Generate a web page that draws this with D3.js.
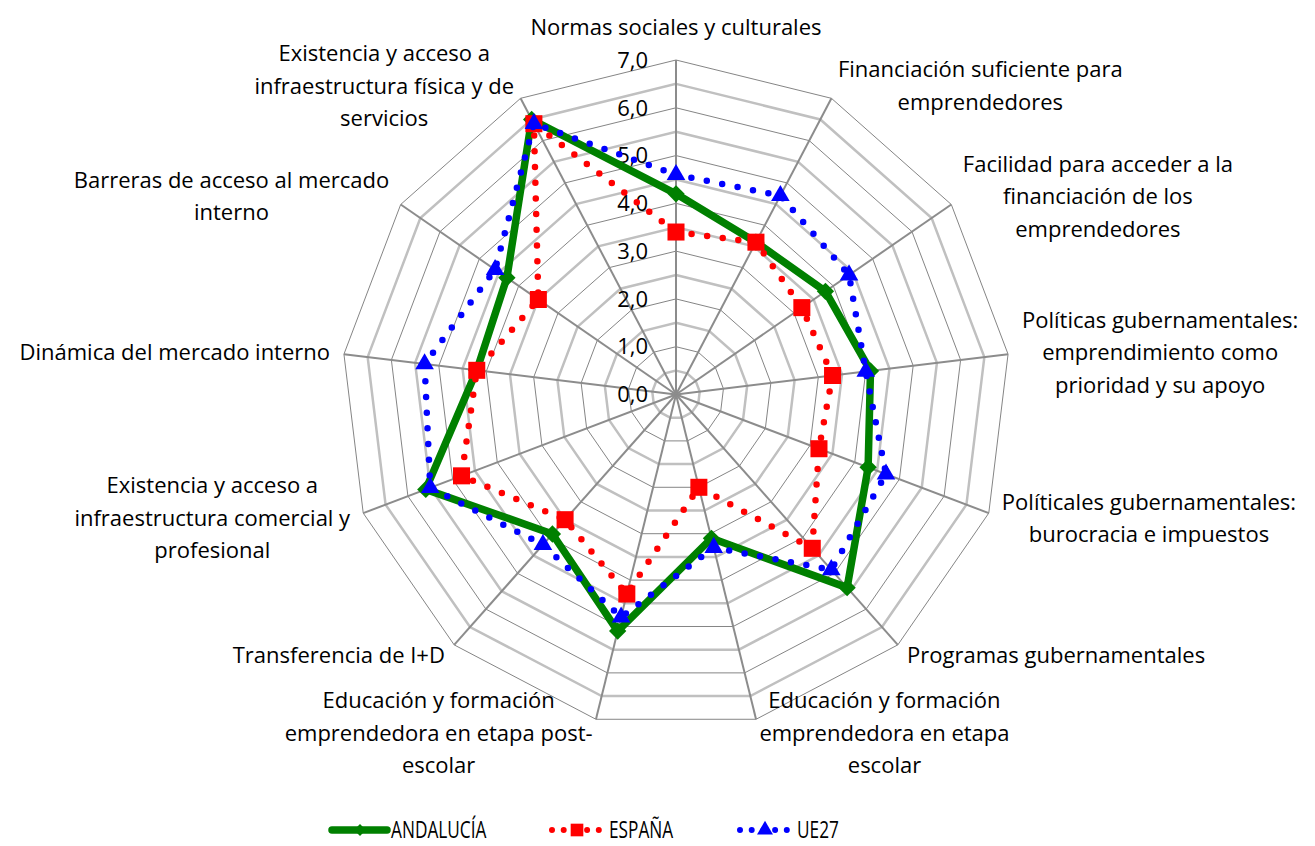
<!DOCTYPE html>
<html>
<head>
<meta charset="utf-8">
<script src="https://cdn.jsdelivr.net/npm/d3@7"></script>
<style>
  body { margin: 0; background: #fff; }
  text { font-family: "Open Sans", sans-serif; fill: #000; }
</style>
</head>
<body>
<script>
// categories, clockwise from the top, already broken in lines
var categories = [
  ["Normas sociales y culturales"],
  ["Financiación suficiente para", "emprendedores"],
  ["Facilidad para acceder a la", "financiación de los", "emprendedores"],
  ["Políticas gubernamentales:", "emprendimiento como", "prioridad y su apoyo"],
  ["Políticales gubernamentales:", "burocracia e impuestos"],
  ["Programas gubernamentales"],
  ["Educación y formación", "emprendedora en etapa", "escolar"],
  ["Educación y formación", "emprendedora en etapa post-", "escolar"],
  ["Transferencia de I+D"],
  ["Existencia y acceso a", "infraestructura comercial y", "profesional"],
  ["Dinámica del mercado interno"],
  ["Barreras de acceso al mercado", "interno"],
  ["Existencia y acceso a", "infraestructura física y de", "servicios"]
];

var andalucia = [4.2, 3.6, 3.8, 4.1, 4.3, 5.4, 3.1, 5.1, 3.9, 5.6, 4.2, 4.3, 6.5];
var espana    = [3.4, 3.6, 3.2, 3.3, 3.2, 4.3, 2.0, 4.3, 3.5, 4.8, 4.2, 3.5, 6.4];
var ue27      = [4.6, 4.7, 4.4, 4.0, 4.7, 4.9, 3.3, 4.8, 4.2, 5.5, 5.3, 4.6, 6.4];

var seriesNames = ["ANDALUCÍA", "ESPAÑA", "UE27"];
var ticks = [0, 1, 2, 3, 4, 5, 6, 7];
var halfTicks = [0.5, 1.5, 2.5, 3.5, 4.5, 5.5, 6.5];

var width = 1315, height = 846;
var cx = 676, cy = 394.5;

var svg = d3.select("body").append("svg")
  .attr("width", width)
  .attr("height", height);

var r = d3.scaleLinear().domain([0, 7]).range([0, 334.5]);
var n = categories.length;
var angle = function(i) { return i * 2 * Math.PI / n; };

var fmt = d3.formatLocale({decimal: ",", thousands: ".", grouping: [3], currency: ["", "€"]}).format(".1f");

var g = svg.append("g").attr("transform", "translate(" + cx + "," + cy + ")");
var gridLayer = g.append("g");
var labelLayer = g.append("g");
var seriesLayer = g.append("g");

function ring(v) {
  return d3.range(n).map(function(i) {
    return [r(v) * Math.sin(angle(i)), -r(v) * Math.cos(angle(i))];
  });
}

// minor rings (thick, light)
gridLayer.selectAll(".minor")
  .data(halfTicks)
  .enter().append("polygon")
    .attr("points", function(d) { return ring(d).join(" "); })
    .attr("fill", "none")
    .attr("stroke", "#c0c0c0")
    .attr("stroke-width", 2.5);

// major rings (thin, darker)
gridLayer.selectAll(".major")
  .data(ticks.slice(1))
  .enter().append("polygon")
    .attr("points", function(d) { return ring(d).join(" "); })
    .attr("fill", "none")
    .attr("stroke", "#858585")
    .attr("stroke-width", 1);

// spokes
gridLayer.selectAll(".spoke")
  .data(d3.range(n))
  .enter().append("line")
    .attr("x1", 0).attr("y1", 0)
    .attr("x2", function(i) { return r(7) * Math.sin(angle(i)); })
    .attr("y2", function(i) { return -r(7) * Math.cos(angle(i)); })
    .attr("stroke", "#8c8c8c")
    .attr("stroke-width", 2);

// value labels
labelLayer.selectAll(".tick")
  .data(ticks)
  .enter().append("text")
    .attr("x", -28)
    .attr("y", function(d) { return -r(d); })
    .attr("dy", "0.35em")
    .attr("text-anchor", "end")
    .attr("font-size", 22)
    .text(function(d) { return fmt(d); });

// category labels
var lineH = 32.5, gap = 14;
categories.forEach(function(lines, i) {
  var a = angle(i), s = Math.sin(a), c = Math.cos(a);
  var vx = r(7) * s, vy = -r(7) * c;
  var t = labelLayer.append("text").attr("font-size", 22).attr("text-anchor", "middle");
  lines.forEach(function(l, j) {
    t.append("tspan").attr("x", 0).attr("y", j * lineH).attr("dy", "0.35em").text(l);
  });
  var w = d3.max(t.selectAll("tspan").nodes(), function(nd) { return nd.getComputedTextLength(); });
  var h = lines.length * lineH;
  var bx, by;
  if (Math.abs(s) < 0.05) {
    bx = vx;
    by = c > 0 ? vy - gap - h + lineH / 2 - 2 : vy + gap + lineH / 2;
  } else {
    bx = s > 0 ? vx + gap * s + w / 2 : vx + gap * s - w / 2;
    by = vy - gap * c - (h - lineH) / 2;
  }
  t.attr("transform", "translate(" + bx + "," + by + ")");
});

// series
var radial = d3.lineRadial()
  .angle(function(d, i) { return angle(i); })
  .radius(function(d) { return r(d); })
  .curve(d3.curveLinearClosed);

var pos = function(v, i) { return [r(v) * Math.sin(angle(i)), -r(v) * Math.cos(angle(i))]; };

// Andalucía
seriesLayer.append("path")
  .attr("d", radial(andalucia))
  .attr("fill", "none")
  .attr("stroke", "#008000")
  .attr("stroke-width", 7.5)
  .attr("stroke-linejoin", "round");
seriesLayer.selectAll(".mA")
  .data(andalucia)
  .enter().append("path")
    .attr("d", d3.symbol(d3.symbolSquare, 150)())
    .attr("transform", function(d, i) { var p = pos(d, i); return "translate(" + p + ") rotate(45)"; })
    .attr("fill", "#008000");

// España
seriesLayer.append("path")
  .attr("d", radial(espana))
  .attr("fill", "none")
  .attr("stroke", "#ff0000")
  .attr("stroke-width", 6.5)
  .attr("stroke-linecap", "round")
  .attr("stroke-dasharray", "0 15.7");
seriesLayer.selectAll(".mE")
  .data(espana)
  .enter().append("path")
    .attr("d", d3.symbol(d3.symbolSquare, 290)())
    .attr("transform", function(d, i) { return "translate(" + pos(d, i) + ")"; })
    .attr("fill", "#ff0000");

// UE27
seriesLayer.append("path")
  .attr("d", radial(ue27))
  .attr("fill", "none")
  .attr("stroke", "#0000ff")
  .attr("stroke-width", 6.5)
  .attr("stroke-linecap", "round")
  .attr("stroke-dasharray", "0 15.7");
seriesLayer.selectAll(".mU")
  .data(ue27)
  .enter().append("path")
    .attr("d", d3.symbol(d3.symbolTriangle, 150)())
    .attr("transform", function(d, i) { return "translate(" + pos(d, i) + ")"; })
    .attr("fill", "#0000ff");

// legend
var legend = svg.append("g").attr("transform", "translate(0,830)");
var items = [
  {x: 332, color: "#008000", dash: null, sym: "diamond"},
  {x: 552, color: "#ff0000", dash: "0 11.7", sym: "square"},
  {x: 740, color: "#0000ff", dash: "0 11.7", sym: "triangle"}
];
items.forEach(function(it, k) {
  var lg = legend.append("g").attr("transform", "translate(" + it.x + ",0)");
  lg.append("line")
    .attr("x1", 0).attr("x2", k == 0 ? 55 : 51).attr("y1", 0).attr("y2", 0)
    .attr("stroke", it.color)
    .attr("stroke-width", k == 0 ? 7.5 : 6)
    .attr("stroke-linecap", "round")
    .attr("stroke-dasharray", it.dash);
  var mx = k == 0 ? 28 : 25;
  if (it.sym == "diamond") {
    lg.append("path").attr("d", d3.symbol(d3.symbolSquare, 70)())
      .attr("transform", "translate(" + mx + ",0) rotate(45)").attr("fill", it.color);
  } else if (it.sym == "square") {
    lg.append("path").attr("d", d3.symbol(d3.symbolSquare, 160)())
      .attr("transform", "translate(" + mx + ",0)").attr("fill", it.color);
  } else {
    lg.append("path").attr("d", d3.symbol(d3.symbolTriangle, 110)())
      .attr("transform", "translate(" + mx + ",0)").attr("fill", it.color);
  }
  lg.append("text")
    .attr("transform", "translate(" + (k == 0 ? 59 : 57) + ",0) scale(0.75,1)")
    .attr("dy", "0.35em")
    .attr("font-size", 23)
    .text(seriesNames[k]);
});
</script>
</body>
</html>
